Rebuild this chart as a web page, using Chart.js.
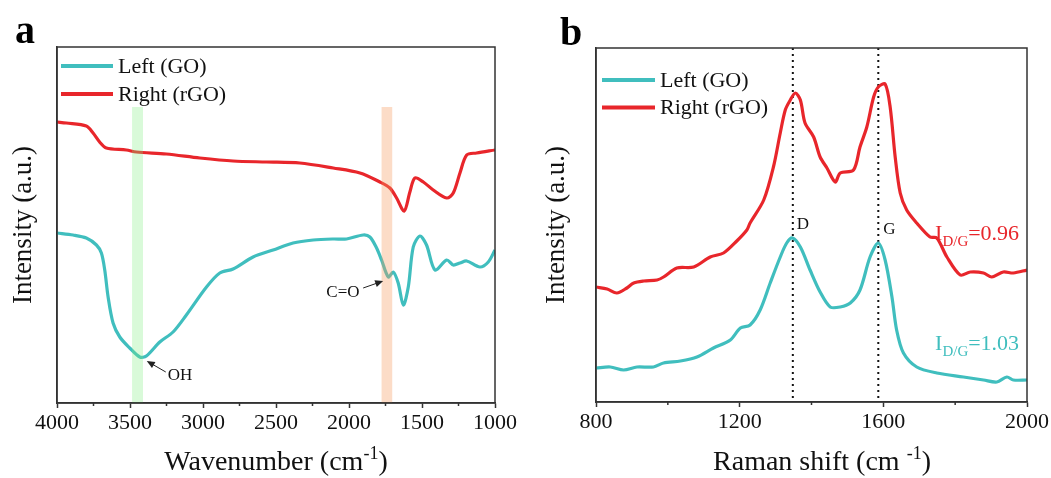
<!DOCTYPE html>
<html>
<head>
<meta charset="utf-8">
<script src="https://cdn.jsdelivr.net/npm/chart.js@4.4.0/dist/chart.umd.min.js"></script>
<style>
  html, body { margin: 0; padding: 0; background: #fff; }
  #wrap { position: relative; width: 1051px; height: 478px; }
  .panel { position: absolute; top: 0; height: 478px; }
  #pa { left: 0; width: 525px; }
  #pb { left: 525px; width: 526px; }
</style>
</head>
<body>
<div id="wrap">
  <div class="panel" id="pa"><canvas id="ftir"></canvas></div>
  <div class="panel" id="pb"><canvas id="raman"></canvas></div>
</div>
<script>
// --- data (intensity in arbitrary units) ---
// panel a: FTIR
const ftirGOWn = [4000, 3890, 3799, 3730, 3696, 3673, 3650, 3616, 3570, 3502, 3433, 3388, 3296, 3205, 3114, 2976, 2885, 2794, 2657, 2520, 2383, 2245, 2108, 2017, 1903, 1857, 1811, 1777, 1731, 1697, 1663, 1628, 1594, 1560, 1514, 1469, 1411, 1331, 1286, 1240, 1194, 1103, 1046, 1000];
const ftirGO = [170, 168, 165, 158, 150, 133, 106, 80, 66, 55, 46, 47, 61, 71, 88, 116, 130, 134, 146, 153, 160, 163, 164, 164, 168, 166, 155, 143, 126, 131, 120, 98, 116, 156, 167, 158, 133, 143, 138, 140, 142, 136, 141, 153];
const ftirRGOWn = [4000, 3936, 3799, 3753, 3708, 3662, 3525, 3456, 3251, 3022, 2794, 2565, 2337, 2108, 1925, 1788, 1720, 1674, 1622, 1583, 1549, 1491, 1423, 1331, 1286, 1240, 1194, 1126, 1000];
const ftirRGO = [281, 280, 277, 270, 261, 255, 253, 251, 249, 245, 242, 241, 240, 235, 230, 221, 215, 205, 192, 211, 225, 221, 213, 205, 210, 230, 248, 250, 253];
const ftirTicks = [4000, 3500, 3000, 2500, 2000, 1500, 1000];
const ftirMinor = [3750, 3250, 2750, 2250, 1750, 1250];

// panel b: Raman
const ramanGOShift = [800, 840, 877, 914, 960, 988, 1035, 1081, 1127, 1174, 1202, 1229, 1257, 1285, 1313, 1331, 1347, 1369, 1396, 1424, 1452, 1480, 1508, 1535, 1563, 1586, 1605, 1624, 1637, 1656, 1693, 1749, 1823, 1879, 1916, 1944, 1962, 2000];
const ramanGO = [35, 36, 33, 36, 36, 40, 42, 46, 55, 63, 75, 78, 93, 120, 146, 160, 165, 156, 133, 111, 96, 96, 100, 113, 146, 160, 143, 106, 73, 50, 36, 30, 26, 23, 21, 26, 23, 23];
const ramanRGOShift = [800, 831, 858, 886, 905, 933, 970, 988, 1025, 1072, 1118, 1155, 1192, 1220, 1229, 1267, 1294, 1313, 1327, 1341, 1355, 1369, 1382, 1406, 1424, 1443, 1466, 1480, 1517, 1535, 1554, 1573, 1586, 1605, 1619, 1633, 1647, 1665, 1693, 1730, 1749, 1777, 1814, 1842, 1879, 1902, 1934, 1962, 2000];
const ramanRGO = [116, 114, 110, 115, 120, 122, 123, 126, 135, 136, 146, 150, 162, 173, 180, 203, 236, 270, 293, 303, 310, 303, 280, 266, 246, 235, 221, 230, 233, 256, 276, 306, 316, 319, 296, 246, 210, 193, 180, 166, 165, 146, 128, 131, 130, 126, 131, 130, 133];
const ramanTicks = [800, 1200, 1600, 2000];
const ramanMinor = [1000, 1400, 1800];
const bandPeaks = [1348, 1586];

const seriesLabels = ['Left (GO)', 'Right (rGO)'];

// --- styles ---
const SERIF = "'Liberation Serif', 'Times New Roman', serif";
const RED = '#e8262b';
const CYAN = '#40bebe';
const AXIS = '#333';
const INK = '#111';

const pts = (xs, ys) => xs.map((x, i) => ({ x, y: ys[i] }));

// draws text made of runs [text, size, dy]
function drawRich(ctx, parts, x, y, align, color) {
  let w = 0;
  parts.forEach(p => { ctx.font = `${p[1]}px ${SERIF}`; w += ctx.measureText(p[0]).width; });
  let cx = align === 'center' ? x - w / 2 : align === 'right' ? x - w : x;
  ctx.fillStyle = color || INK;
  ctx.textAlign = 'left';
  ctx.textBaseline = 'alphabetic';
  parts.forEach(p => {
    ctx.font = `${p[1]}px ${SERIF}`;
    ctx.fillText(p[0], cx, y + (p[2] || 0));
    cx += ctx.measureText(p[0]).width;
  });
}

function arrow(ctx, x1, y1, x2, y2) {
  const ang = Math.atan2(y2 - y1, x2 - x1);
  ctx.strokeStyle = '#222';
  ctx.fillStyle = '#222';
  ctx.lineWidth = 1;
  ctx.beginPath();
  ctx.moveTo(x1, y1);
  ctx.lineTo(x2 - 6 * Math.cos(ang), y2 - 6 * Math.sin(ang));
  ctx.stroke();
  ctx.beginPath();
  ctx.moveTo(x2, y2);
  ctx.lineTo(x2 - 8 * Math.cos(ang) + 3.5 * Math.sin(ang), y2 - 8 * Math.sin(ang) - 3.5 * Math.cos(ang));
  ctx.lineTo(x2 - 8 * Math.cos(ang) - 3.5 * Math.sin(ang), y2 - 8 * Math.sin(ang) + 3.5 * Math.cos(ang));
  ctx.closePath();
  ctx.fill();
}

const decor = {
  id: 'decor',
  beforeDatasetsDraw(chart, args, o) {
    const { ctx, chartArea: a, scales: { x } } = chart;
    ctx.save();
    (o.vlines || []).forEach(v => {
      const px = x.getPixelForValue(v);
      ctx.strokeStyle = '#111';
      ctx.lineWidth = 2;
      ctx.setLineDash([2, 4]);
      ctx.beginPath();
      ctx.moveTo(px, a.top);
      ctx.lineTo(px, a.bottom);
      ctx.stroke();
    });
    ctx.restore();
  },
  afterDatasetsDraw(chart, args, o) {
    const { ctx, chartArea: a, scales: { x, y } } = chart;
    ctx.save();
    (o.bands || []).forEach(b => {
      const x1 = x.getPixelForValue(b.from), x2 = x.getPixelForValue(b.to);
      const yt = y.getPixelForValue(b.top);
      ctx.fillStyle = b.color;
      ctx.fillRect(Math.min(x1, x2), yt, Math.abs(x2 - x1), a.bottom - yt);
    });
    ctx.restore();
  },
  afterDraw(chart, args, o) {
    const { ctx, chartArea: a, scales: { x, y } } = chart;
    ctx.save();
    // frame top/right
    ctx.strokeStyle = AXIS;
    ctx.lineWidth = 1.5;
    ctx.strokeRect(a.left, a.top, a.right - a.left, a.bottom - a.top);
    // minor ticks
    (o.minor || []).forEach(v => {
      const px = x.getPixelForValue(v);
      ctx.beginPath();
      ctx.moveTo(px, a.bottom);
      ctx.lineTo(px, a.bottom + 3);
      ctx.stroke();
    });
    // arrows
    (o.arrows || []).forEach(ar => {
      arrow(ctx, x.getPixelForValue(ar.from[0]), y.getPixelForValue(ar.from[1]),
        x.getPixelForValue(ar.to[0]), y.getPixelForValue(ar.to[1]));
    });
    // small labels
    (o.notes || []).forEach(n => {
      ctx.font = `${n.size}px ${SERIF}`;
      ctx.fillStyle = INK;
      ctx.textAlign = n.align;
      ctx.textBaseline = 'middle';
      ctx.fillText(n.text, x.getPixelForValue(n.x), y.getPixelForValue(n.y));
    });
    (o.rich || []).forEach(r => {
      drawRich(ctx, r.parts, x.getPixelForValue(r.x), y.getPixelForValue(r.y), 'left', r.color);
    });
    // legend
    const lg = o.legend;
    chart.data.datasets.forEach((ds, i) => {
      const ly = lg.y0 + i * lg.dy;
      ctx.strokeStyle = ds.borderColor;
      ctx.lineWidth = 4;
      ctx.beginPath();
      ctx.moveTo(lg.x1, ly);
      ctx.lineTo(lg.x2, ly);
      ctx.stroke();
      ctx.font = `22px ${SERIF}`;
      ctx.fillStyle = INK;
      ctx.textAlign = 'left';
      ctx.textBaseline = 'middle';
      ctx.fillText(ds.label, lg.tx, ly + 1);
    });
    // x title with superscript
    drawRich(ctx, o.xTitle.parts, o.xTitle.x, o.xTitle.y, 'center', INK);
    // panel letter
    ctx.font = `bold 40px ${SERIF}`;
    ctx.fillStyle = '#000';
    ctx.textAlign = 'left';
    ctx.textBaseline = 'alphabetic';
    ctx.fillText(o.letter.text, o.letter.x, o.letter.y);
    ctx.restore();
  }
};

function lineSet(label, data, color) {
  return {
    label, data, borderColor: color, backgroundColor: color,
    borderWidth: 3.2, pointRadius: 0, tension: 0.3, fill: false
  };
}

function baseOptions(cfg) {
  return {
    responsive: true,
    maintainAspectRatio: false,
    animation: false,
    events: [],
    layout: { padding: { top: cfg.top, right: cfg.right, left: 0, bottom: 0 } },
    plugins: { legend: { display: false }, tooltip: { enabled: false }, decor: cfg.decor },
    scales: {
      x: {
        type: 'linear', reverse: cfg.reverse, min: cfg.xmin, max: cfg.xmax,
        afterBuildTicks: s => { s.ticks = cfg.ticks.map(v => ({ value: v })); },
        ticks: { font: { family: SERIF, size: 22 }, color: INK, padding: 2, autoSkip: false, maxRotation: 0, callback: v => String(v) },
        grid: { drawOnChartArea: false, tickLength: 5, tickColor: AXIS, tickWidth: 1.5 },
        border: { color: AXIS, width: 1.5 },
        afterFit: s => { s.height = cfg.xh; }
      },
      y: {
        min: cfg.ymin, max: cfg.ymax,
        ticks: { display: false },
        grid: { display: false },
        border: { color: AXIS, width: 1.5 },
        title: { display: true, text: 'Intensity (a.u.)', font: { family: SERIF, size: 27 }, color: INK, padding: { top: cfg.ytPad, bottom: 0 } },
        afterFit: s => { s.width = cfg.yw; }
      }
    }
  };
}

new Chart(document.getElementById('ftir'), {
  type: 'line',
  data: {
    datasets: [
      lineSet(seriesLabels[0], pts(ftirGOWn, ftirGO), CYAN),
      lineSet(seriesLabels[1], pts(ftirRGOWn, ftirRGO), RED)
    ]
  },
  options: baseOptions({
    top: 47, right: 30, xh: 75, yw: 57, ytPad: 8, reverse: true,
    xmin: 1000, xmax: 4000, ymin: 0, ymax: 356, ticks: ftirTicks,
    decor: {
      minor: ftirMinor,
      bands: [
        { from: 3486, to: 3411, top: 296, color: 'rgba(130,240,130,0.3)' },
        { from: 1777, to: 1704, top: 296, color: 'rgba(245,155,95,0.35)' }
      ],
      arrows: [
        { from: [3255, 31], to: [3385, 42] },
        { from: [1903, 115], to: [1766, 122] }
      ],
      notes: [
        { text: 'OH', x: 3241, y: 27, align: 'left', size: 17 },
        { text: 'C=O', x: 1928, y: 110, align: 'right', size: 17 }
      ],
      legend: { x1: 61, x2: 113, y0: 66, dy: 28, tx: 118 },
      xTitle: { parts: [['Wavenumber (cm', 28, 0], ['-1', 18, -11], [')', 28, 0]], x: 276, y: 470 },
      letter: { text: 'a', x: 15, y: 43 }
    }
  }),
  plugins: [decor]
});

new Chart(document.getElementById('raman'), {
  type: 'line',
  data: {
    datasets: [
      lineSet(seriesLabels[0], pts(ramanGOShift, ramanGO), CYAN),
      lineSet(seriesLabels[1], pts(ramanRGOShift, ramanRGO), RED)
    ]
  },
  options: baseOptions({
    top: 48, right: 24, xh: 76, yw: 71, ytPad: 16, reverse: false,
    xmin: 800, xmax: 2000, ymin: 1, ymax: 355, ticks: ramanTicks,
    decor: {
      minor: ramanMinor,
      vlines: bandPeaks,
      notes: [
        { text: 'D', x: 1359, y: 178, align: 'left', size: 17 },
        { text: 'G', x: 1600, y: 173, align: 'left', size: 17 }
      ],
      rich: [
        { parts: [['I', 22, 0], ['D/G', 15, 6], ['=0.96', 22, 0]], x: 1744, y: 163, color: RED },
        { parts: [['I', 22, 0], ['D/G', 15, 6], ['=1.03', 22, 0]], x: 1744, y: 53, color: CYAN }
      ],
      legend: { x1: 77, x2: 130, y0: 80, dy: 27.5, tx: 135 },
      xTitle: { parts: [['Raman shift (cm ', 28, 0], ['-1', 18, -11], [')', 28, 0]], x: 297, y: 470 },
      letter: { text: 'b', x: 35, y: 45 }
    }
  }),
  plugins: [decor]
});
</script>
</body>
</html>
